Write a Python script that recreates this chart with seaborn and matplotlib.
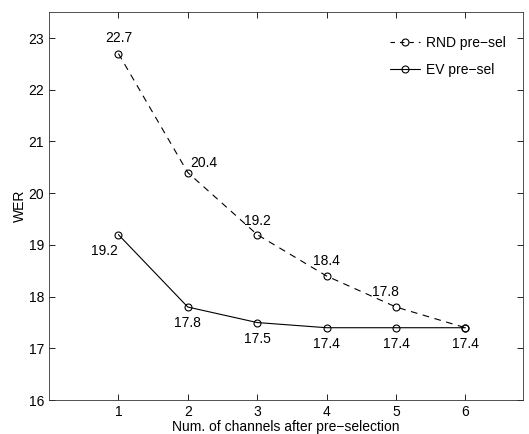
import pandas as pd
import matplotlib.pyplot as plt
import seaborn as sns

channels = [1, 2, 3, 4, 5, 6]
wer_rnd = [22.7, 20.4, 19.2, 18.4, 17.8, 17.4]
wer_ev = [19.2, 17.8, 17.5, 17.4, 17.4, 17.4]

df = pd.DataFrame({'canais': channels, 'rnd': wer_rnd, 'ev': wer_ev})

sns.set_style('ticks')
plt.rcParams['font.family'] = ['Liberation Sans', 'DejaVu Sans']
plt.rcParams['font.size'] = 10
plt.rcParams['text.color'] = 'black'
plt.rcParams['axes.labelcolor'] = 'black'
plt.rcParams['xtick.color'] = 'black'
plt.rcParams['ytick.color'] = 'black'
plt.rcParams['axes.edgecolor'] = '#333333'

fig = plt.figure(figsize=(5.29, 4.34), dpi=100)
ax = fig.add_axes([0.0926, 0.078, 0.896, 0.894])

sns.lineplot(data=df, x='canais', y='rnd', ax=ax, color='black', linestyle='--',
             linewidth=0.8, marker='o', markersize=5,
             markerfacecolor='none', markeredgecolor='black', markeredgewidth=0.8,
             label='RND pre\u2212sel')
sns.lineplot(data=df, x='canais', y='ev', ax=ax, color='black', linestyle='-',
             linewidth=0.8, marker='o', markersize=5,
             markerfacecolor='none', markeredgecolor='black', markeredgewidth=0.8,
             label='EV pre\u2212sel')
ax.lines[0].set_dashes((6, 5))

# rotulos dos pontos (deslocamento em pixels)
off_rnd = [(0, 16), (16, 10), (0, 14), (0, 15), (-11, 15), (0, 0)]
for x, y, o in zip(channels, wer_rnd, off_rnd):
    if x == 6:
        continue
    ax.annotate(f'{y:.1f}', (x, y), xytext=o, textcoords='offset pixels',
                ha='center', va='center', fontsize=10)
off_ev = [(-14, -16), (0, -16), (0, -16), (0, -16), (0, -16), (0, -16)]
for x, y, o in zip(channels, wer_ev, off_ev):
    ax.annotate(f'{y:.1f}', (x, y), xytext=o, textcoords='offset pixels',
                ha='center', va='center', fontsize=10)

ax.set_xlim(0, 6.83)
ax.set_ylim(16, 23.5)
ax.set_xticks(channels)
ax.set_yticks(range(16, 24))
ax.tick_params(direction='in', top=True, right=True, length=4, width=0.6, labelsize=10)
for s in ax.spines.values():
    s.set_linewidth(0.6)
ax.set_xlabel('Num. of channels after pre\u2212selection', fontsize=10, labelpad=1)
ax.set_ylabel('WER', fontsize=10, labelpad=1)
leg = ax.legend(loc='upper right', frameon=False, fontsize=10, handlelength=2.2,
                labelspacing=0.9, handletextpad=0.4, bbox_to_anchor=(0.99, 0.97))
leg.get_lines()[0].set_dashes((4, 4.5))

fig.savefig('out.png', dpi=100)
